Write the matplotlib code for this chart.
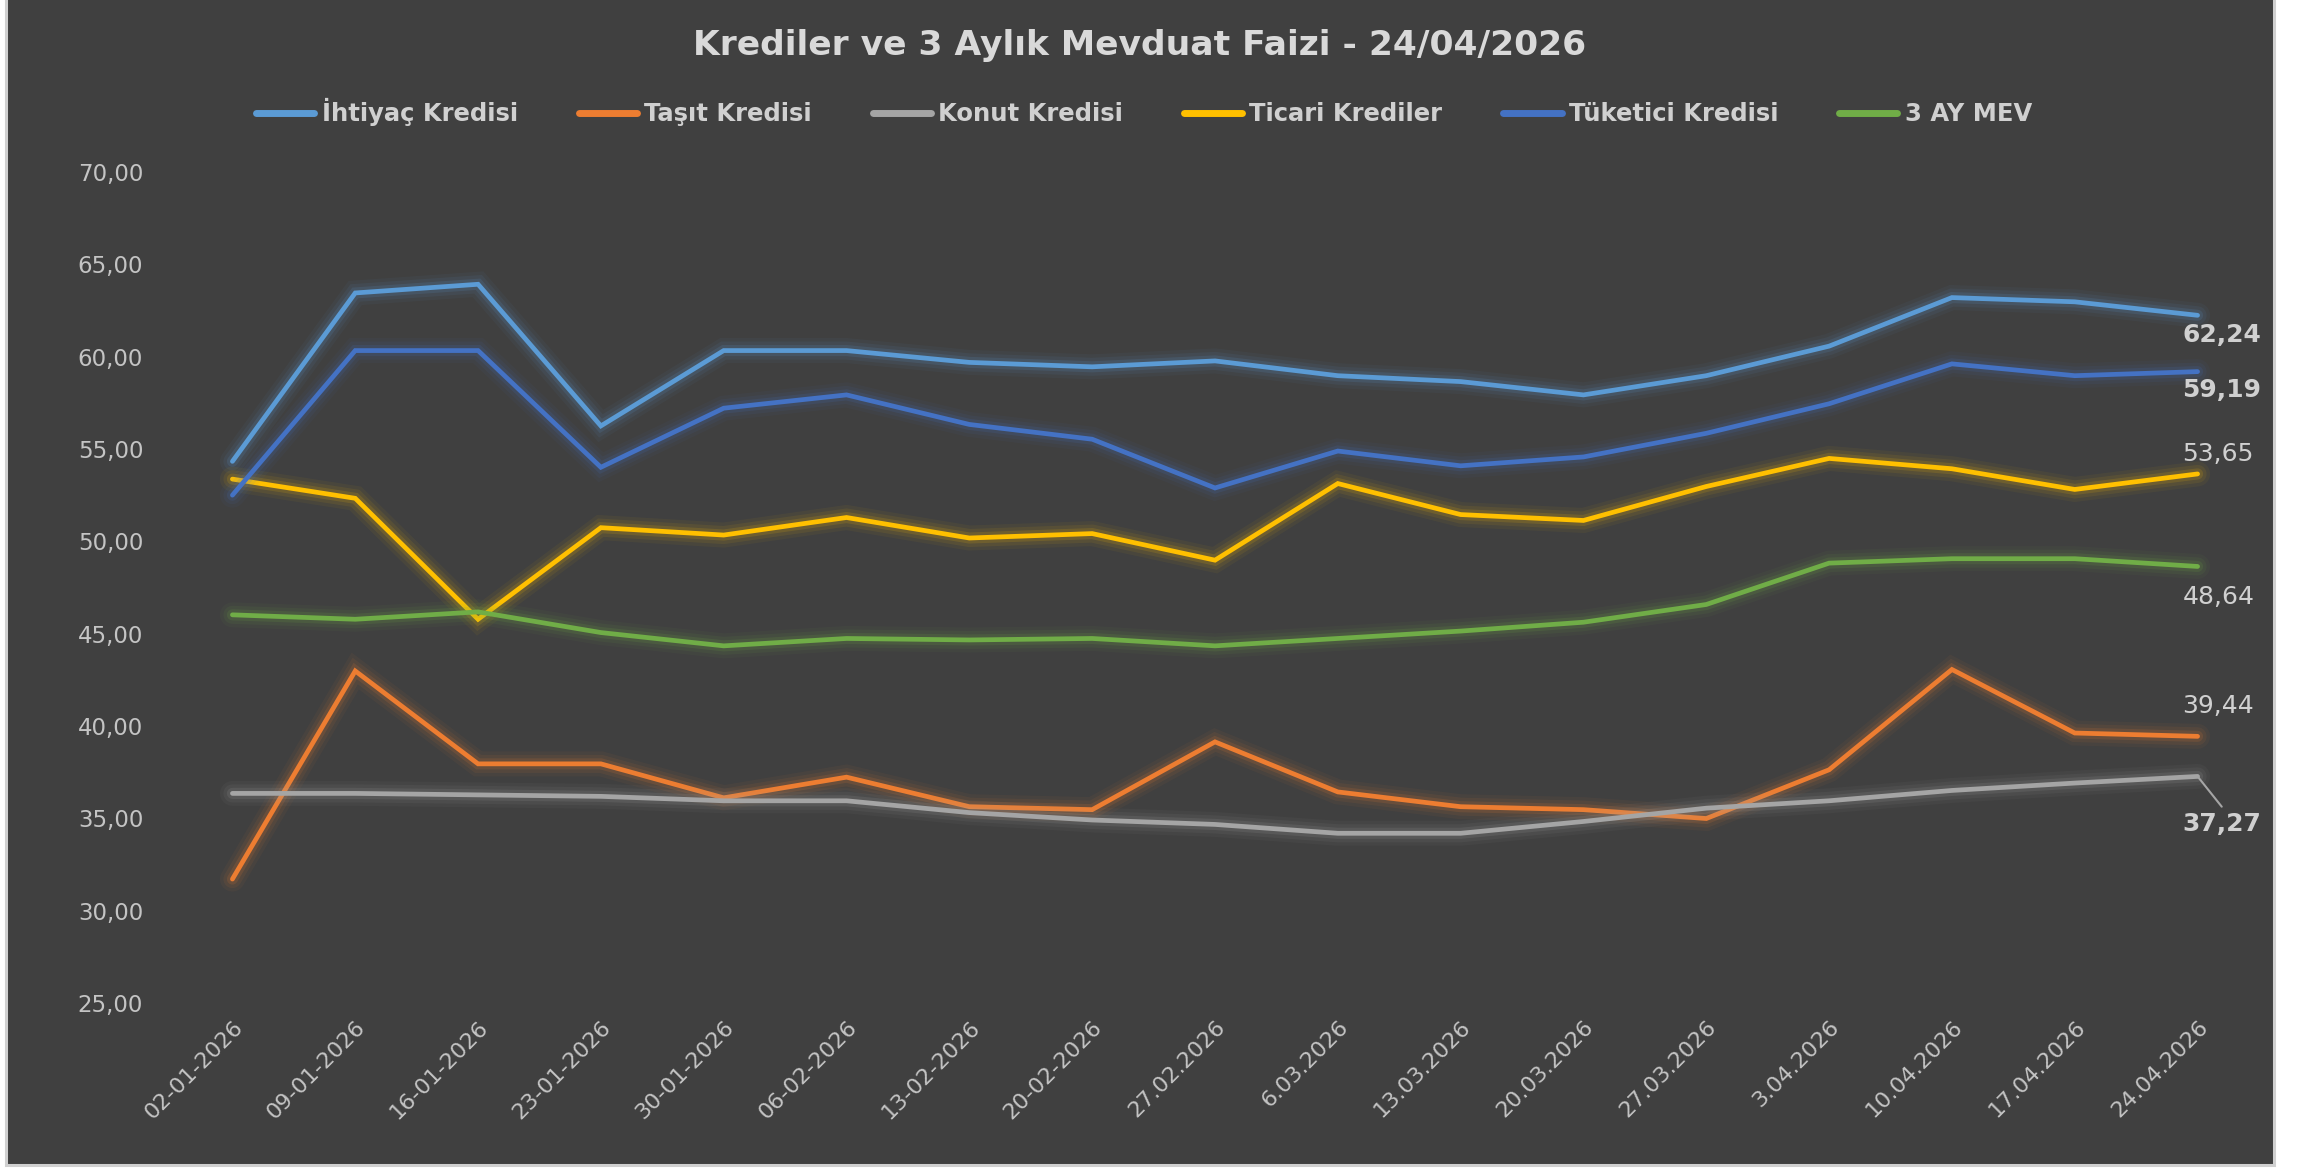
import matplotlib
matplotlib.use("Agg")
from matplotlib import pyplot as plt
from matplotlib import patheffects as pe
from matplotlib.patches import Rectangle

# category labels (as written on the chart)
dates = ["02-01-2026", "09-01-2026", "16-01-2026", "23-01-2026", "30-01-2026",
         "06-02-2026", "13-02-2026", "20-02-2026", "27.02.2026", "6.03.2026",
         "13.03.2026", "20.03.2026", "27.03.2026", "3.04.2026", "10.04.2026",
         "17.04.2026", "24.04.2026"]

ihtiyac = [54.33, 63.45, 63.92, 56.25, 60.33, 60.33, 59.69, 59.45, 59.77, 58.97,
           58.65, 57.93, 58.97, 60.57, 63.20, 62.97, 62.24]
tasit = [31.71, 42.98, 37.95, 37.95, 36.11, 37.23, 35.63, 35.47, 39.14, 36.43,
         35.63, 35.47, 34.99, 37.63, 43.06, 39.62, 39.44]
konut = [36.35, 36.35, 36.27, 36.19, 35.95, 35.95, 35.31, 34.91, 34.67, 34.19,
         34.19, 34.83, 35.55, 35.95, 36.51, 36.91, 37.27]
ticari = [53.37, 52.33, 45.78, 50.74, 50.34, 51.29, 50.18, 50.42, 48.98, 53.13,
          51.45, 51.13, 52.97, 54.49, 53.93, 52.81, 53.65]
tuketici = [52.50, 60.33, 60.33, 54.01, 57.21, 57.93, 56.33, 55.53, 52.89, 54.89,
            54.09, 54.57, 55.85, 57.45, 59.61, 58.97, 59.19]
mevduat = [46.02, 45.78, 46.18, 45.06, 44.34, 44.74, 44.66, 44.74, 44.34, 44.74,
           45.14, 45.62, 46.58, 48.82, 49.06, 49.06, 48.64]

names = ["İhtiyaç Kredisi", "Taşıt Kredisi", "Konut Kredisi", "Ticari Krediler",
         "Tüketici Kredisi", "3 AY MEV"]
series = [ihtiyac, tasit, konut, ticari, tuketici, mevduat]
colors = ["#5B9BD5", "#ED7D31", "#A5A5A5", "#FFC000", "#4472C4", "#70AD47"]

# end label placement (points, y down) and weight
label_dy = [14, -22, 34, -14, 13, 22]
label_bold = [True, False, True, False, True, False]

W, H, DPI = 2313, 1172, 100
fig = plt.figure(figsize=(W / DPI, H / DPI), dpi=DPI, facecolor="white")

# dark chart area with light border
bg = Rectangle((6 / W, 1 - 1165 / H), (2274 - 6) / W, 1165 / H + 0.01,
               transform=fig.transFigure, facecolor="#404040",
               edgecolor="#d0d0d0", linewidth=2.2, zorder=-10)
fig.add_artist(bg)

ax = fig.add_axes([171 / W, 1 - 1003 / H, (2259 - 171) / W, (1003 - 172) / H])
ax.set_zorder(1)
ax.set_facecolor("none")
for s in ax.spines.values():
    s.set_visible(False)

x = list(range(len(dates)))
handles = []
for vals, name, col in zip(series, names, colors):
    glow = [pe.Stroke(linewidth=18, foreground=col, alpha=0.05),
            pe.Stroke(linewidth=13, foreground=col, alpha=0.08),
            pe.Stroke(linewidth=8, foreground=col, alpha=0.14),
            pe.Normal()]
    ln, = ax.plot(x, vals, color=col, linewidth=3.4, solid_capstyle="round",
                  solid_joinstyle="miter", path_effects=glow, label=name)
    handles.append(ln)

ax.set_xlim(-0.5, len(dates) - 0.5)
ax.set_ylim(25, 70)
ax.set_yticks(range(25, 71, 5))
ax.set_yticklabels([f"{v},00" for v in range(25, 71, 5)])
ax.tick_params(axis="y", length=0, pad=20, labelsize=16.5, labelcolor="#c4c4c4")
ax.set_xticks(x)
ax.set_xticklabels(dates, rotation=45, ha="right", rotation_mode="anchor")
ax.tick_params(axis="x", length=0, pad=10, labelsize=16, labelcolor="#c4c4c4")

# values at the last point
for vals, col, dy, bold in zip(series, colors, label_dy, label_bold):
    txt = f"{vals[-1]:.2f}".replace(".", ",")
    arrow = None
    if dy > 30:
        arrow = dict(arrowstyle="-", color="#a5a5a5", lw=1.5,
                     relpos=(0.55, 1.0), shrinkA=2, shrinkB=0)
    ax.annotate(txt, xy=(x[-1], vals[-1]), xytext=(-11, -dy),
                textcoords="offset points", ha="left", va="center",
                fontsize=18, color="#d0d0d0",
                fontweight="bold" if bold else "normal",
                arrowprops=arrow, annotation_clip=False)

fig.text(1140 / W, 1 - 45 / H, "Krediler ve 3 Aylık Mevduat Faizi - 24/04/2026",
         ha="center", va="center", fontsize=24.8, fontweight="bold", color="#d9d9d9")

leg = fig.legend(handles, names, loc="center", bbox_to_anchor=(1144 / W, 1 - 112 / H),
                 ncol=6, frameon=False, handlelength=2.4, handletextpad=0.3,
                 columnspacing=2.5, prop={"weight": "bold", "size": 17.5})
for t in leg.get_texts():
    t.set_color("#d0d0d0")
for lh in leg.get_lines():
    lh.set_linewidth(5)
    lh.set_path_effects([])

fig.savefig("out.png", dpi=DPI, facecolor=fig.get_facecolor())
